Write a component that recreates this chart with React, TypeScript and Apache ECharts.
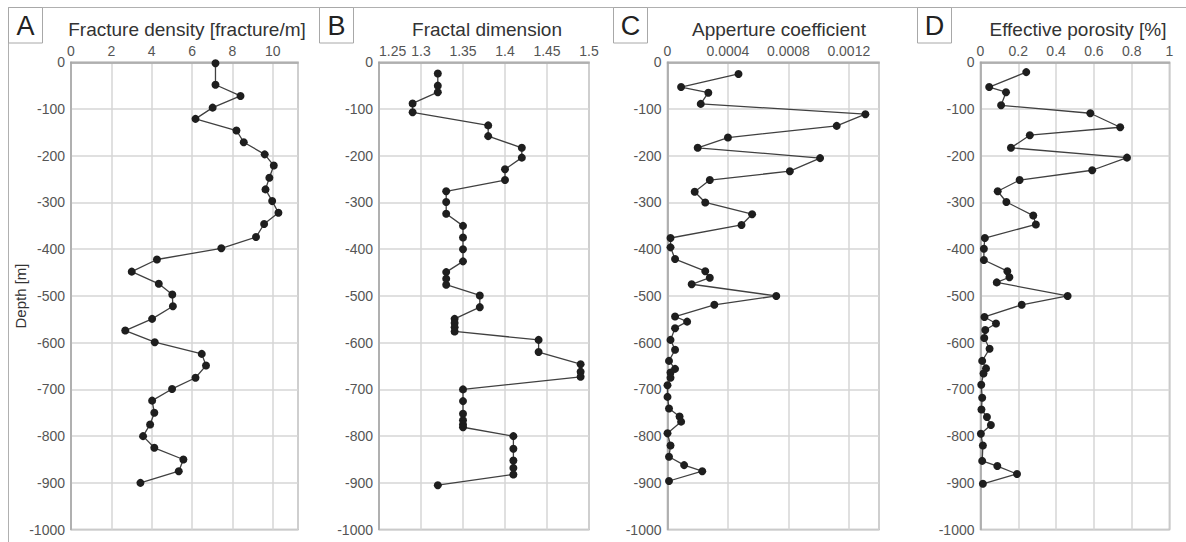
import React, { useEffect, useRef } from "react";
import * as echarts from "echarts";

// Panel A – fracture density [fracture/m]
const densityDepth = [-2, -48, -72, -97, -121, -146, -171, -197, -221, -247, -272, -297, -322, -346, -374, -398, -422, -448, -474, -497, -522, -549, -574, -599, -624, -649, -675, -699, -724, -750, -775, -800, -825, -850, -875, -900];
const densityValues = [7.16, 7.16, 8.4, 7.02, 6.17, 8.2, 8.56, 9.6, 10.05, 9.83, 9.64, 9.97, 10.28, 9.57, 9.17, 7.45, 4.26, 3.01, 4.35, 5.02, 5.05, 4.02, 2.69, 4.15, 6.48, 6.69, 6.17, 5.01, 4.02, 4.13, 3.92, 3.57, 4.13, 5.57, 5.34, 3.44];

// Panel B – fractal dimension
const fractalDepth = [-24, -50, -64, -88, -107, -135, -158, -183, -204, -229, -252, -276, -299, -324, -350, -375, -400, -426, -449, -463, -476, -499, -524, -549, -558, -567, -576, -594, -620, -646, -662, -673, -700, -725, -752, -766, -775, -781, -800, -827, -852, -868, -882, -905];
const fractalValues = [1.32, 1.32, 1.32, 1.29, 1.29, 1.38, 1.38, 1.42, 1.42, 1.4, 1.4, 1.33, 1.33, 1.33, 1.35, 1.35, 1.35, 1.35, 1.33, 1.33, 1.33, 1.37, 1.37, 1.34, 1.34, 1.34, 1.34, 1.44, 1.44, 1.49, 1.49, 1.49, 1.35, 1.35, 1.35, 1.35, 1.35, 1.35, 1.41, 1.41, 1.41, 1.41, 1.41, 1.32];

// Panel C – aperture coefficient
const apertureDepth = [-25, -53, -65, -89, -111, -136, -161, -183, -205, -233, -252, -277, -300, -325, -348, -376, -396, -421, -447, -461, -475, -500, -519, -544, -555, -569, -594, -615, -639, -656, -664, -675, -691, -716, -741, -758, -769, -794, -820, -844, -862, -875, -896];
const apertureValues = [0.00047, 0.00009, 0.00027, 0.00022, 0.00131, 0.00112, 0.0004, 0.0002, 0.00101, 0.00081, 0.00028, 0.00018, 0.00025, 0.00056, 0.00049, 0.00002, 0.00002, 0.00005, 0.00025, 0.00028, 0.00016, 0.00072, 0.00031, 0.00005, 0.00013, 0.00005, 0.00002, 0.00005, 0.00001, 0.00005, 0.00002, 0.00002, 0.0, 0.0, 0.00001, 0.00008, 0.00009, 0.0, 0.00002, 0.00001, 0.00011, 0.00023, 0.00001];

// Panel D – effective porosity [%]
const porosityDepth = [-21, -53, -64, -92, -109, -139, -156, -183, -204, -231, -252, -276, -299, -328, -347, -376, -399, -423, -447, -460, -471, -500, -519, -545, -559, -573, -590, -613, -639, -655, -666, -690, -718, -743, -759, -776, -795, -820, -853, -864, -881, -902];
const porosityValues = [0.242, 0.046, 0.135, 0.109, 0.581, 0.739, 0.261, 0.161, 0.775, 0.591, 0.207, 0.091, 0.137, 0.279, 0.293, 0.023, 0.018, 0.018, 0.142, 0.153, 0.086, 0.461, 0.218, 0.021, 0.082, 0.025, 0.02, 0.048, 0.009, 0.029, 0.016, 0.004, 0.009, 0.005, 0.034, 0.055, 0.002, 0.0125, 0.009, 0.089, 0.193, 0.0125];

const panelLetters = ["A", "B", "C", "D"];
const panelTitles = [
  "Fracture density [fracture/m]",
  "Fractal dimension",
  "Apperture coefficient",
  "Effective porosity [%]",
];
const depthName = "Depth [m]";

const FONT = "'Liberation Sans', Arial, Helvetica, sans-serif";

export default function App() {
  const ref = useRef<HTMLDivElement>(null);

  useEffect(() => {
    document.body.style.margin = "0";
    if (!ref.current) return;
    const chart = echarts.init(ref.current, null, { renderer: "svg" });

    const grids = [
      { left: 71, top: 62.3, width: 227, height: 467.3 },
      { left: 379, top: 62.3, width: 210, height: 467.3 },
      { left: 667.5, top: 62.3, width: 211.5, height: 467.3 },
      { left: 980.5, top: 62.3, width: 189, height: 467.3 },
    ];
    const titleCenters = [187, 487, 779, 1078];
    const boxLefts = [8, 319, 613, 917];

    const xRanges = [
      { min: 0, max: 11.25, interval: 2, hideMax: true, minAlign: "center" },
      { min: 1.25, max: 1.5, interval: 0.05, hideMax: false, minAlign: "left" },
      { min: 0, max: 0.0014, interval: 0.0004, hideMax: true, minAlign: "center" },
      { min: 0, max: 1, interval: 0.2, hideMax: false, minAlign: "center" },
    ];

    const borderColor = "#a6a6a6";
    const splitColor = "#d6d6d6";
    const labelColor = "#555555";

    const fmt = (v: number) => {
      if (v === 0) return "0";
      return String(parseFloat(v.toFixed(6)));
    };

    const xAxis = xRanges.map((r, i) => ({
      type: "value",
      gridIndex: i,
      position: "top",
      min: r.min,
      max: r.max,
      interval: r.interval,
      axisLine: { show: true, lineStyle: { color: borderColor, width: 1.5 } },
      axisTick: { show: false },
      splitLine: { show: true, lineStyle: { color: splitColor, width: 1.5 } },
      axisLabel: {
        color: labelColor,
        fontSize: 14,
        fontFamily: FONT,
        margin: 4,
        showMaxLabel: !r.hideMax,
        showMinLabel: true,
        alignMinLabel: r.minAlign,
        hideOverlap: false,
        formatter: fmt,
      },
    }));

    const yAxis = [0, 1, 2, 3].map((i) => ({
      type: "value",
      gridIndex: i,
      min: -1000,
      max: 0,
      interval: 100,
      axisLine: { show: true, lineStyle: { color: borderColor, width: 1.5 } },
      axisTick: { show: false },
      splitLine: { show: true, lineStyle: { color: splitColor, width: 1.5 } },
      axisLabel: {
        color: labelColor,
        fontSize: 14,
        fontFamily: FONT,
        margin: 6,
        formatter: (v: number) => String(v),
      },
    }));

    const datasets = [
      [densityValues, densityDepth],
      [fractalValues, fractalDepth],
      [apertureValues, apertureDepth],
      [porosityValues, porosityDepth],
    ];

    const series = datasets.map(([vals, depths], i) => ({
      type: "line",
      xAxisIndex: i,
      yAxisIndex: i,
      data: vals.map((v, k) => [v, depths[k]]),
      symbol: "circle",
      symbolSize: 8,
      showSymbol: true,
      lineStyle: { color: "#404040", width: 1.3 },
      itemStyle: { color: "#1e1e1e" },
      emphasis: { disabled: true },
      silent: true,
    }));

    const graphics: any[] = [
      {
        type: "line",
        shape: { x1: 8, y1: 7.5, x2: 1186, y2: 7.5 },
        style: { stroke: "#b0b0b0", lineWidth: 1 },
        silent: true,
      },
      {
        type: "line",
        shape: { x1: 8.5, y1: 7, x2: 8.5, y2: 542 },
        style: { stroke: "#b0b0b0", lineWidth: 1 },
        silent: true,
      },
      {
        type: "text",
        x: 20,
        y: 296,
        rotation: Math.PI / 2,
        style: {
          text: depthName,
          fontSize: 15,
          fontFamily: FONT,
          fill: "#333333",
          align: "center",
          verticalAlign: "middle",
        },
        silent: true,
      },
    ];
    boxLefts.forEach((bx, i) => {
      graphics.push({
        type: "rect",
        shape: { x: bx + 0.5, y: 7.5, width: 34, height: 35.5 },
        style: { fill: "#ffffff", stroke: "#a8a8a8", lineWidth: 1 },
        silent: true,
      });
      graphics.push({
        type: "text",
        x: bx + 17.5,
        y: 26,
        style: {
          text: panelLetters[i],
          fontSize: 27,
          fontFamily: FONT,
          fill: "#222222",
          align: "center",
          verticalAlign: "middle",
        },
        silent: true,
      });
      graphics.push({
        type: "text",
        x: titleCenters[i],
        y: 29,
        style: {
          text: panelTitles[i],
          fontSize: 19,
          fontFamily: FONT,
          fill: "#333333",
          align: "center",
          verticalAlign: "middle",
        },
        silent: true,
      });
    });

    chart.setOption({
      animation: false,
      backgroundColor: "#ffffff",
      grid: grids.map((g) => ({
        ...g,
        show: true,
        borderColor: borderColor,
        borderWidth: 1.5,
        backgroundColor: "transparent",
      })),
      xAxis,
      yAxis,
      series,
      graphic: graphics,
    } as any);

    return () => {
      chart.dispose();
    };
  }, []);

  return <div ref={ref} style={{ width: 1186, height: 542 }} />;
}
